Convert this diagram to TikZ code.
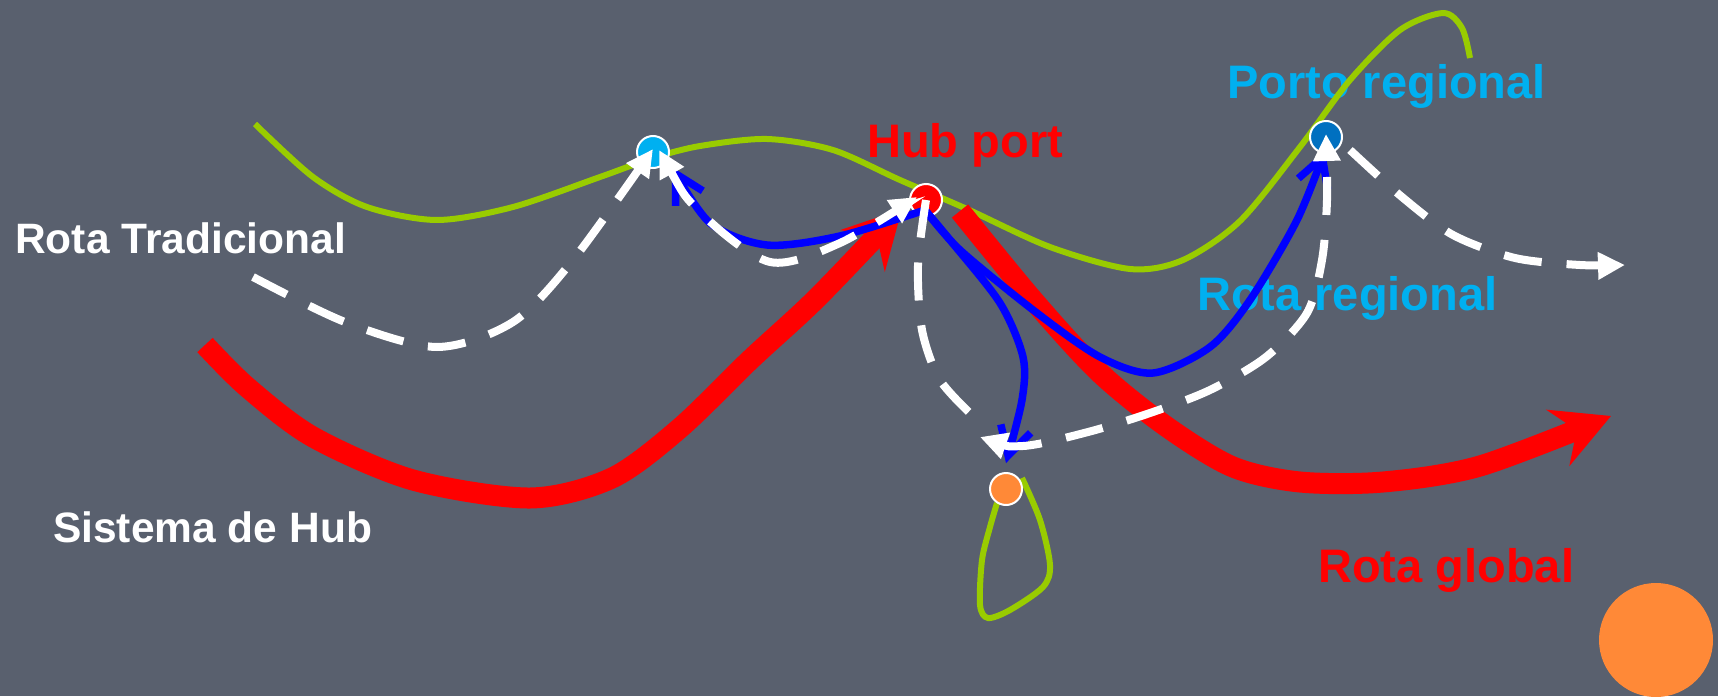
\documentclass[tikz,border=0pt]{standalone}
\usepackage{fontspec}
\setmainfont{Liberation Sans}
\usetikzlibrary{arrows.meta}
\definecolor{bg}{RGB}{89,96,110}
\definecolor{lime}{RGB}{153,204,0}
\definecolor{cyanc}{RGB}{0,176,240}
\definecolor{portoc}{RGB}{0,112,192}
\definecolor{orng}{RGB}{255,137,55}
\begin{document}
\begin{tikzpicture}[x=1pt,y=-1pt,
  greenline/.style={draw=lime,line width=6pt},
  redline/.style={draw=red,line width=21pt,-{Stealth[length=57pt,width=60pt,inset=20pt]}},
  whitedash/.style={draw=white,line width=8pt,dash pattern=on 38pt off 25pt},
  whitetip/.style={-{Triangle[length=27pt,width=26pt]}},
  whitetips/.style={{Triangle[length=27pt,width=26pt]}-{Triangle[length=27pt,width=26pt]}},
  blueline/.style={draw=blue,line width=7.5pt},
  bluetip/.style={-{Straight Barb[length=28pt,width=31pt].}},
  port/.style={circle,draw=white,line width=2pt,minimum size=32pt,inner sep=0pt},
  lbl/.style={anchor=base west,inner sep=0pt,font=\bfseries\fontsize{42.5}{50}\selectfont},
  lblbig/.style={anchor=base west,inner sep=0pt,font=\bfseries\fontsize{47}{56}\selectfont}
]
\fill[bg] (0,0) rectangle (1718,696);
\useasboundingbox (0,0) rectangle (1718,696);

% labels
\node[lbl,text=white] (tRT) at (15,253) {Rota Tradicional};
\node[lbl,text=white] (tSH) at (53,542) {Sistema de Hub};
\node[lblbig,text=red] (tHP) at (867,157) {Hub port};
\node[lblbig,text=cyanc] (tPR) at (1227,98) {Porto regional};
\node[lblbig,text=cyanc] (tRR) at (1197,310) {Rota regional};
\node[lblbig,text=red] (tRG) at (1318,582) {Rota global};

% coordinates
\coordinate (hubB) at (925,210);
\coordinate (hubRedIn) at (902,209);
\coordinate (hubRedOut) at (960,211);
\coordinate (globalEnd) at (1611,416);
\coordinate (sysStart) at (205,345);
\coordinate (tradStart) at (253,277);
\coordinate (cyanIn) at (653,149);
\coordinate (cyanW) at (659,150);
\coordinate (hubW) at (917,197);
\coordinate (orangeW) at (980,437);
\coordinate (portoW) at (1326,134);
\coordinate (portoOut) at (1350,150);
\coordinate (rightEnd) at (1625,265);
\coordinate (cyanB) at (672,167);
\coordinate (portoB) at (1325,150);
\coordinate (orangeB) at (1006,463);

% green lines
\draw[greenline] plot[smooth] coordinates {(255,124) (313,177) (367,207) (437,220) (513,207) (600,177) (653,158) (700,146) (767,139) (833,150) (900,180) (967,209) (1050,247) (1130,269) (1183,260) (1240,221) (1300,147) (1350,80) (1400,30) (1443,13) (1462,28) (1470,58)};
\draw[greenline] plot[smooth] coordinates {(997,503) (990,527) (982,560) (980,605) (988,618) (1010,610) (1043,587) (1050,565) (1040,520) (1022,478)};

% red routes
\draw[redline] plot[smooth] coordinates {(sysStart) (247,387) (313,437) (413,480) (530,498) (612,478) (680,428) (750,360) (817,298) (hubRedIn)};
\draw[redline] plot[smooth] coordinates {(hubRedOut) (1033,300) (1100,373) (1167,427) (1233,467) (1300,482) (1383,482) (1480,466) (globalEnd)};

% ports
\node[port,fill=cyanc] (cyanport) at (653,152) {};
\node[port,fill=red] (hub) at (926,200) {};
\node[port,fill=portoc] (porto) at (1326,137) {};
\node[port,fill=orng] (orangeport) at (1006,489) {};
\node[circle,fill=orng,minimum size=114pt,inner sep=0pt] (bigdot) at (1656,640) {};

% blue routes
\draw[blueline,bluetip] plot[smooth] coordinates {(hubB) (840,236) (767,245) (710,223) (cyanB)};
\draw[blueline,bluetip] plot[smooth] coordinates {(hubB) (960,250) (1037,313) (1100,357) (1153,373) (1210,347) (1250,300) (1297,220) (portoB)};
\draw[blueline,bluetip] plot[smooth] coordinates {(hubB) (950,240) (1000,303) (1023,357) (1022,400) (orangeB)};

% white dashed routes
\draw[whitedash,whitetip] plot[smooth] coordinates {(tradStart) (345,322) (437,347) (513,322) (573,260) (cyanIn)};
\draw[whitedash,whitetips] plot[smooth] coordinates {(cyanW) (700,212) (770,262) (840,243) (hubW)};
\draw[whitedash] plot[smooth] coordinates {(hub) (918,265) (922,330) (940,380) (975,418)};
\draw[whitedash,whitetips] plot[smooth] coordinates {(orangeW) (1023,446) (1088,432) (1150,413) (1210,390) (1266,357) (1307,313) (1322,260) (1327,200) (portoW)};
\draw[whitedash,whitetip] plot[smooth] coordinates {(portoOut) (1402,197) (1453,235) (1515,258) (1580,265) (rightEnd)};
\end{tikzpicture}
\end{document}
